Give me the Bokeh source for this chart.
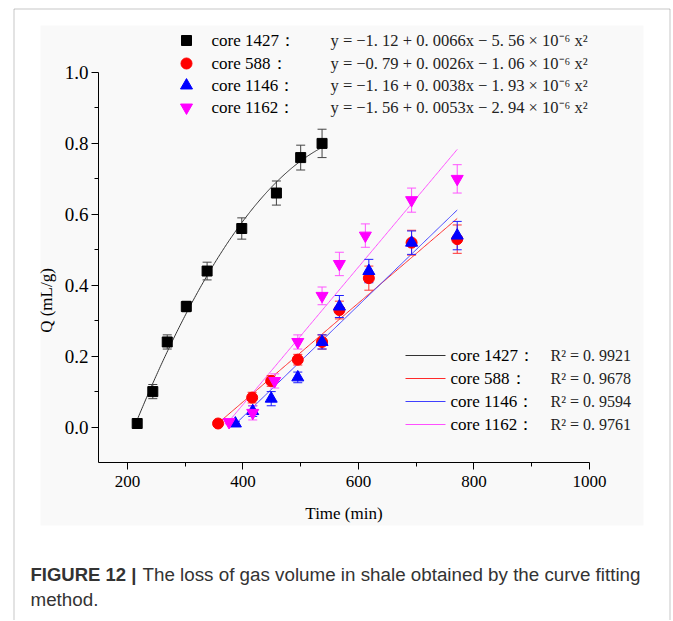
import numpy as np
from bokeh.plotting import figure
from bokeh.models import Label, BoxAnnotation, Range1d, FixedTicker, NumeralTickFormatter
from bokeh.embed import file_html
from bokeh.resources import INLINE

# ---------------- data ----------------
cores = ["core 1427", "core 588", "core 1146", "core 1162"]

t_1427 = [217, 244, 269, 302, 338, 398, 458, 500, 537]
q_1427 = [0.01, 0.10, 0.24, 0.34, 0.44, 0.56, 0.66, 0.76, 0.80]
e_1427 = [0.005, 0.02, 0.02, 0.015, 0.025, 0.03, 0.034, 0.035, 0.04]

t_588 = [357, 416, 449, 495, 537, 567, 618, 692, 771]
q_588 = [0.01, 0.083, 0.13, 0.19, 0.24, 0.33, 0.42, 0.52, 0.53]
e_588 = [0.005, 0.015, 0.015, 0.015, 0.02, 0.025, 0.034, 0.035, 0.04]

t_1146 = [387, 417, 449, 495, 537, 567, 618, 692, 771]
q_1146 = [0.01, 0.045, 0.08, 0.14, 0.24, 0.34, 0.44, 0.52, 0.54]
e_1146 = [0.005, 0.015, 0.02, 0.015, 0.02, 0.031, 0.033, 0.033, 0.04]

t_1162 = [376, 417, 455, 495, 537, 567, 612, 692, 771]
q_1162 = [0.014, 0.04, 0.13, 0.24, 0.37, 0.46, 0.54, 0.64, 0.70]
e_1162 = [0.005, 0.02, 0.02, 0.02, 0.025, 0.033, 0.033, 0.034, 0.04]

equations = [
    "y = \u22121. 12 + 0. 0066x \u2212 5. 56 \u00d7 10\u207b\u2076 x\u00b2",
    "y = \u22120. 79 + 0. 0026x \u2212 1. 06 \u00d7 10\u207b\u2076 x\u00b2",
    "y = \u22121. 16 + 0. 0038x \u2212 1. 93 \u00d7 10\u207b\u2076 x\u00b2",
    "y = \u22121. 56 + 0. 0053x \u2212 2. 94 \u00d7 10\u207b\u2076 x\u00b2",
]
r_squared = ["0. 9921", "0. 9678", "0. 9594", "0. 9761"]

x_ticks = [200, 400, 600, 800, 1000]
x_minor = [300, 500, 700, 900]
y_ticks = [0.0, 0.2, 0.4, 0.6, 0.8, 1.0]
y_minor = [0.1, 0.3, 0.5, 0.7, 0.9]

# ---------------- layout ----------------
W, H = 672, 620
XL, XR = 98, 589          # px of x=150 and x=1000
YT, YB = 72, 462          # px of y=1.0 and y=-0.1
kx = (XR - XL) / 850.0
ky = (YB - YT) / 1.1


def X(px):
    return 150 + (px - XL) / kx


def Y(py):
    return 1.0 - (py - YT) / ky


SERIF = "Liberation Serif"

p = figure(width=W, height=H, x_range=Range1d(X(0), X(W)), y_range=Range1d(Y(H), Y(0)),
           output_backend="svg", toolbar_location=None, title=None, min_border=0)
p.xgrid.visible = False
p.ygrid.visible = False
p.outline_line_color = None
p.background_fill_color = "white"
p.border_fill_color = "white"

# background panel and outer frame
p.add_layout(BoxAnnotation(left=X(40), right=X(643), top=Y(25), bottom=Y(525),
                           fill_color="#f9f9f9", fill_alpha=1.0, line_color=None,
                           level="underlay"))
p.add_layout(BoxAnnotation(left=X(13.5), right=X(669.5), top=Y(8.5), bottom=Y(680),
                           fill_alpha=0.0, line_color="#444444", line_width=1))

# axes (drawn at fixed data locations)
xa = p.xaxis[0]
xa.fixed_location = -0.1
xa.bounds = (150, 1000)
xa.ticker = FixedTicker(ticks=x_ticks, minor_ticks=x_minor)
xa.axis_label = "Time (min)"
ya = p.yaxis[0]
ya.fixed_location = 150
ya.bounds = (-0.1, 1.0)
ya.ticker = FixedTicker(ticks=y_ticks, minor_ticks=y_minor)
ya.formatter = NumeralTickFormatter(format="0.0")
for ax in (xa, ya):
    ax.axis_line_color = "black"
    ax.axis_line_width = 1
    ax.major_tick_line_color = "black"
    ax.minor_tick_line_color = "black"
    ax.major_tick_in = 0
    ax.major_tick_out = 7
    ax.minor_tick_in = 0
    ax.minor_tick_out = 4
    ax.major_label_text_font = SERIF
    ax.major_label_text_font_size = "17px"
    ax.major_label_text_color = "black"
    ax.axis_label_text_font = SERIF
    ax.axis_label_text_font_size = "17px"
    ax.axis_label_text_font_style = "normal"
    ax.axis_label_text_color = "black"
ya.major_label_text_font_size = "19px"
xa.major_label_standoff = 6
xa.axis_label_standoff = 14
ya.major_label_standoff = 3

p.add_layout(Label(x=X(46), y=Y(300), text="Q (mL/g)", angle=np.pi / 2,
                   text_font=SERIF, text_font_size="17px", text_align="center",
                   text_baseline="middle", text_color="black"))

# ---------------- series ----------------
series = [
    (t_1427, q_1427, e_1427, "black", "#333333", "#444444", "square", 10),
    (t_588, q_588, e_588, "#ff0000", "#ff2a2a", "#ff3030", "circle", 11),
    (t_1146, q_1146, e_1146, "#0000ff", "#4040ff", "#2020ff", "triangle", 12),
    (t_1162, q_1162, e_1162, "#ff00ff", "#ff50ff", "#ff55ff", "inverted_triangle", 12),
]
# fitted curves: quadratic least-squares for core 1427, linear trend for the others
fit_deg = [2, 1, 1, 1]

for (t, q, e, col, lcol, ecol, mk, sz), deg in zip(series, fit_deg):
    c = np.polyfit(t, q, deg)
    tt = np.linspace(min(t), max(t), 200)
    p.line(tt, np.polyval(c, tt), line_color=lcol, line_width=1)

for (t, q, e, col, lcol, ecol, mk, sz) in series:
    ta = np.array(t, dtype=float)
    qa = np.array(q)
    ea = np.array(e)
    p.segment(x0=ta, y0=qa - ea, x1=ta, y1=qa + ea, line_color=ecol, line_width=1)
    p.scatter(np.concatenate([ta, ta]), np.concatenate([qa - ea, qa + ea]),
              marker="dash", size=9, line_color=ecol, line_width=1)

for (t, q, e, col, lcol, ecol, mk, sz) in series:
    p.scatter(t, q, marker=mk, size=sz, fill_color=col, line_color=col)

# ---------------- legends ----------------
rows_top = [40, 63, 85, 107]
for i, (s, py) in enumerate(zip(series, rows_top)):
    p.scatter([X(186)], [Y(py)], marker=s[6], size=s[7], fill_color=s[3], line_color=s[3])
    p.add_layout(Label(x=X(211), y=Y(py), text=cores[i] + "\uff1a", text_font=SERIF,
                       text_font_size="17px", text_baseline="middle", text_color="black"))
    p.add_layout(Label(x=X(330), y=Y(py), text=equations[i], text_font=SERIF,
                       text_font_size="16.5px", text_baseline="middle", text_color="#222222"))

rows_bot = [355, 378, 401, 424]
for i, (s, py) in enumerate(zip(series, rows_bot)):
    p.line([X(405), X(445)], [Y(py), Y(py)], line_color=s[4], line_width=1)
    p.add_layout(Label(x=X(450), y=Y(py), text=cores[i] + "\uff1a", text_font=SERIF,
                       text_font_size="17px", text_baseline="middle", text_color="black"))
    p.add_layout(Label(x=X(550), y=Y(py), text="R\u00b2 = " + r_squared[i], text_font=SERIF,
                       text_font_size="16px", text_baseline="middle", text_color="#222222"))

# ---------------- caption ----------------
p.add_layout(Label(x=X(30), y=Y(574), text="FIGURE 12 |", text_font="Liberation Sans",
                   text_font_size="18.5px", text_font_style="bold", text_baseline="middle",
                   text_color="#333333"))
p.add_layout(Label(x=X(142), y=Y(574),
                   text="The loss of gas volume in shale obtained by the curve fitting",
                   text_font="Liberation Sans", text_font_size="18.8px", text_baseline="middle",
                   text_color="#333333"))
p.add_layout(Label(x=X(30), y=Y(599), text="method.", text_font="Liberation Sans",
                   text_font_size="18.8px", text_baseline="middle", text_color="#333333"))

open("out.html", "w").write(file_html(p, INLINE))
